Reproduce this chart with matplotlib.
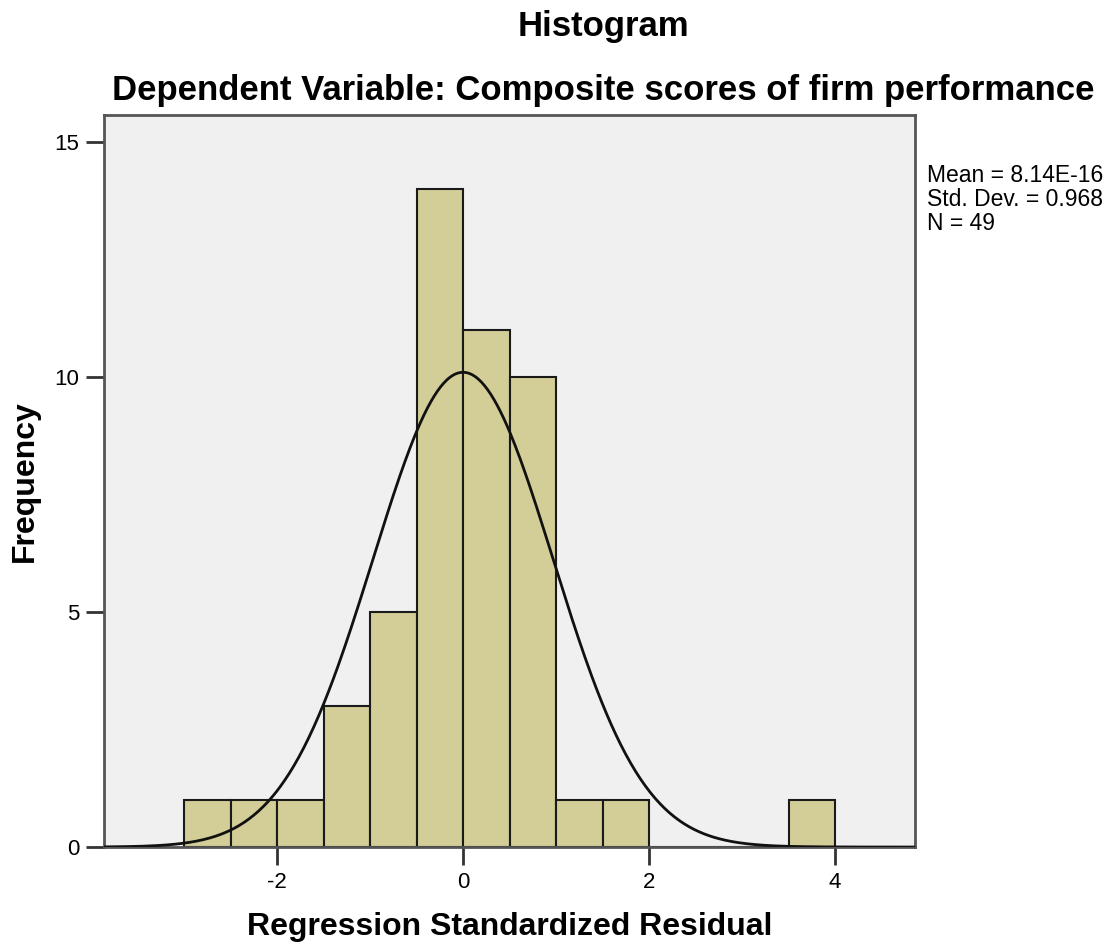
import matplotlib.pyplot as plt
import numpy as np
from matplotlib.ticker import FuncFormatter

plt.rcParams['font.family'] = ['Liberation Sans', 'DejaVu Sans']

# histogram bins (width 0.5) and counts
bin_edges = [-3.0, -2.5, -2.0, -1.5, -1.0, -0.5, 0.0, 0.5, 1.0, 1.5, 2.0, 2.5, 3.0, 3.5, 4.0]
counts = [1, 1, 1, 3, 5, 14, 11, 10, 1, 1, 0, 0, 0, 1]

mean = 8.14e-16
sd = 0.968
n = 49
binw = 0.5

fig = plt.figure(figsize=(11.2, 9.48), dpi=100)
ax = fig.add_axes([0.0929, 0.1065, 0.7241, 0.7722])
ax.set_facecolor('#f0f0f0')

left = np.array(bin_edges[:-1])
ax.bar(left, counts, width=binw, align='edge', color='#d3ce97',
       edgecolor='#1a1a1a', linewidth=1.5, zorder=2)

xs = np.linspace(-3.86, 4.86, 500)
ys = n * binw * np.exp(-0.5 * ((xs - mean) / sd) ** 2) / (sd * np.sqrt(2 * np.pi))
ax.plot(xs, ys, color='#111111', linewidth=2, zorder=3)

ax.set_xlim(-3.86, 4.86)
ax.set_ylim(0, 15.57)
ax.set_xticks([-2, 0, 2, 4])
ax.set_yticks([0, 5, 10, 15])
ax.xaxis.set_major_formatter(FuncFormatter(lambda v, p: '%d' % v))
ax.tick_params(length=13, width=2, color='#333333', labelsize=16, pad=5)
for s in ax.spines.values():
    s.set_color('#555555')
    s.set_linewidth(2)

ax.set_xlabel('Regression Standardized Residual', fontsize=23, fontweight='bold', labelpad=14)
ax.set_ylabel('Frequency', fontsize=23, fontweight='bold', labelpad=10)

fig.text(0.539, 0.972, 'Histogram', ha='center', va='center', fontsize=25, fontweight='bold')
fig.text(0.539, 0.905, 'Dependent Variable: Composite scores of firm performance',
         ha='center', va='center', fontsize=25, fontweight='bold')

fig.text(0.828, 0.827, 'Mean = 8.14E-16\nStd. Dev. = 0.968\nN = 49',
         ha='left', va='top', fontsize=16.5, linespacing=1.05)

fig.savefig('out.png', dpi=100)
